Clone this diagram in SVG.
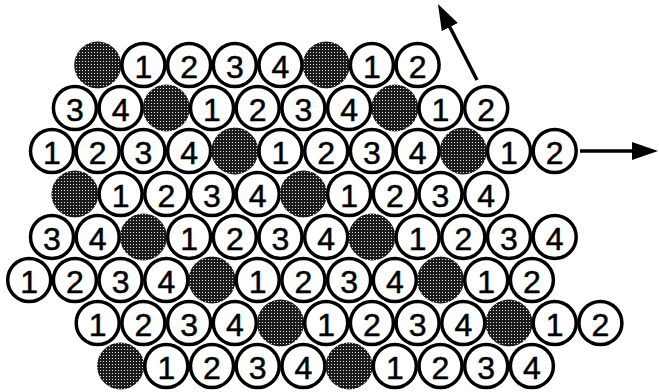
<svg xmlns="http://www.w3.org/2000/svg" width="659" height="392" viewBox="0 0 659 392">
<style>
.c{fill:#fff;stroke:#000;stroke-width:3.5}
.s{fill:url(#dots)}
.t{font-family:"Liberation Sans",Arial,sans-serif;font-size:32px;text-anchor:middle;fill:#000;stroke:#000;stroke-width:0.5}
.a{stroke:#000;stroke-width:3.5;fill:none;marker-end:url(#ah)}
</style>
<defs>
<pattern id="dots" width="3" height="3" patternUnits="userSpaceOnUse">
<rect width="3" height="3" fill="#1a1a1a"/>
<circle cx="1.5" cy="1.5" r="0.6" fill="#fff"/>
</pattern>
<marker id="ah" viewBox="0 0 26 18" refX="20" refY="9" markerUnits="userSpaceOnUse" markerWidth="26" markerHeight="18" orient="auto">
<path d="M0,0 L26,9 L0,18 z" fill="#000"/>
</marker>
</defs>
<rect width="659" height="392" fill="#fff"/>
<g id="nodes">
<!-- Row 1 -->
<g id="r1c1"><circle class="s" cx="97.7" cy="65" r="23.5"/></g>
<g id="r1c2"><circle class="c" cx="143.4" cy="65" r="21.5"/><text class="t" x="143.4" y="78">1</text></g>
<g id="r1c3"><circle class="c" cx="189.1" cy="65" r="21.5"/><text class="t" x="189.1" y="78">2</text></g>
<g id="r1c4"><circle class="c" cx="234.8" cy="65" r="21.5"/><text class="t" x="234.8" y="78">3</text></g>
<g id="r1c5"><circle class="c" cx="280.5" cy="65" r="21.5"/><text class="t" x="280.5" y="78">4</text></g>
<g id="r1c6"><circle class="s" cx="326.2" cy="65" r="23.5"/></g>
<g id="r1c7"><circle class="c" cx="371.9" cy="65" r="21.5"/><text class="t" x="371.9" y="78">1</text></g>
<g id="r1c8"><circle class="c" cx="417.6" cy="65" r="21.5"/><text class="t" x="417.6" y="78">2</text></g>
<!-- Row 2 -->
<g id="r2c1"><circle class="c" cx="74.9" cy="108" r="21.5"/><text class="t" x="74.9" y="121">3</text></g>
<g id="r2c2"><circle class="c" cx="120.6" cy="108" r="21.5"/><text class="t" x="120.6" y="121">4</text></g>
<g id="r2c3"><circle class="s" cx="166.3" cy="108" r="23.5"/></g>
<g id="r2c4"><circle class="c" cx="212" cy="108" r="21.5"/><text class="t" x="212" y="121">1</text></g>
<g id="r2c5"><circle class="c" cx="257.7" cy="108" r="21.5"/><text class="t" x="257.7" y="121">2</text></g>
<g id="r2c6"><circle class="c" cx="303.4" cy="108" r="21.5"/><text class="t" x="303.4" y="121">3</text></g>
<g id="r2c7"><circle class="c" cx="349.1" cy="108" r="21.5"/><text class="t" x="349.1" y="121">4</text></g>
<g id="r2c8"><circle class="s" cx="394.8" cy="108" r="23.5"/></g>
<g id="r2c9"><circle class="c" cx="440.5" cy="108" r="21.5"/><text class="t" x="440.5" y="121">1</text></g>
<g id="r2c10"><circle class="c" cx="486.2" cy="108" r="21.5"/><text class="t" x="486.2" y="121">2</text></g>
<!-- Row 3 -->
<g id="r3c1"><circle class="c" cx="52" cy="151" r="21.5"/><text class="t" x="52" y="164">1</text></g>
<g id="r3c2"><circle class="c" cx="97.7" cy="151" r="21.5"/><text class="t" x="97.7" y="164">2</text></g>
<g id="r3c3"><circle class="c" cx="143.4" cy="151" r="21.5"/><text class="t" x="143.4" y="164">3</text></g>
<g id="r3c4"><circle class="c" cx="189.1" cy="151" r="21.5"/><text class="t" x="189.1" y="164">4</text></g>
<g id="r3c5"><circle class="s" cx="234.8" cy="151" r="23.5"/></g>
<g id="r3c6"><circle class="c" cx="280.5" cy="151" r="21.5"/><text class="t" x="280.5" y="164">1</text></g>
<g id="r3c7"><circle class="c" cx="326.2" cy="151" r="21.5"/><text class="t" x="326.2" y="164">2</text></g>
<g id="r3c8"><circle class="c" cx="371.9" cy="151" r="21.5"/><text class="t" x="371.9" y="164">3</text></g>
<g id="r3c9"><circle class="c" cx="417.6" cy="151" r="21.5"/><text class="t" x="417.6" y="164">4</text></g>
<g id="r3c10"><circle class="s" cx="463.3" cy="151" r="23.5"/></g>
<g id="r3c11"><circle class="c" cx="509" cy="151" r="21.5"/><text class="t" x="509" y="164">1</text></g>
<g id="r3c12"><circle class="c" cx="554.7" cy="151" r="21.5"/><text class="t" x="554.7" y="164">2</text></g>
<!-- Row 4 -->
<g id="r4c1"><circle class="s" cx="74.9" cy="194" r="23.5"/></g>
<g id="r4c2"><circle class="c" cx="120.6" cy="194" r="21.5"/><text class="t" x="120.6" y="207">1</text></g>
<g id="r4c3"><circle class="c" cx="166.3" cy="194" r="21.5"/><text class="t" x="166.3" y="207">2</text></g>
<g id="r4c4"><circle class="c" cx="212" cy="194" r="21.5"/><text class="t" x="212" y="207">3</text></g>
<g id="r4c5"><circle class="c" cx="257.7" cy="194" r="21.5"/><text class="t" x="257.7" y="207">4</text></g>
<g id="r4c6"><circle class="s" cx="303.4" cy="194" r="23.5"/></g>
<g id="r4c7"><circle class="c" cx="349.1" cy="194" r="21.5"/><text class="t" x="349.1" y="207">1</text></g>
<g id="r4c8"><circle class="c" cx="394.8" cy="194" r="21.5"/><text class="t" x="394.8" y="207">2</text></g>
<g id="r4c9"><circle class="c" cx="440.5" cy="194" r="21.5"/><text class="t" x="440.5" y="207">3</text></g>
<g id="r4c10"><circle class="c" cx="486.2" cy="194" r="21.5"/><text class="t" x="486.2" y="207">4</text></g>
<!-- Row 5 -->
<g id="r5c1"><circle class="c" cx="52" cy="237" r="21.5"/><text class="t" x="52" y="250">3</text></g>
<g id="r5c2"><circle class="c" cx="97.7" cy="237" r="21.5"/><text class="t" x="97.7" y="250">4</text></g>
<g id="r5c3"><circle class="s" cx="143.4" cy="237" r="23.5"/></g>
<g id="r5c4"><circle class="c" cx="189.1" cy="237" r="21.5"/><text class="t" x="189.1" y="250">1</text></g>
<g id="r5c5"><circle class="c" cx="234.8" cy="237" r="21.5"/><text class="t" x="234.8" y="250">2</text></g>
<g id="r5c6"><circle class="c" cx="280.5" cy="237" r="21.5"/><text class="t" x="280.5" y="250">3</text></g>
<g id="r5c7"><circle class="c" cx="326.2" cy="237" r="21.5"/><text class="t" x="326.2" y="250">4</text></g>
<g id="r5c8"><circle class="s" cx="371.9" cy="237" r="23.5"/></g>
<g id="r5c9"><circle class="c" cx="417.6" cy="237" r="21.5"/><text class="t" x="417.6" y="250">1</text></g>
<g id="r5c10"><circle class="c" cx="463.3" cy="237" r="21.5"/><text class="t" x="463.3" y="250">2</text></g>
<g id="r5c11"><circle class="c" cx="509" cy="237" r="21.5"/><text class="t" x="509" y="250">3</text></g>
<g id="r5c12"><circle class="c" cx="554.7" cy="237" r="21.5"/><text class="t" x="554.7" y="250">4</text></g>
<!-- Row 6 -->
<g id="r6c1"><circle class="c" cx="29.2" cy="280" r="21.5"/><text class="t" x="29.2" y="293">1</text></g>
<g id="r6c2"><circle class="c" cx="74.9" cy="280" r="21.5"/><text class="t" x="74.9" y="293">2</text></g>
<g id="r6c3"><circle class="c" cx="120.6" cy="280" r="21.5"/><text class="t" x="120.6" y="293">3</text></g>
<g id="r6c4"><circle class="c" cx="166.3" cy="280" r="21.5"/><text class="t" x="166.3" y="293">4</text></g>
<g id="r6c5"><circle class="s" cx="212" cy="280" r="23.5"/></g>
<g id="r6c6"><circle class="c" cx="257.7" cy="280" r="21.5"/><text class="t" x="257.7" y="293">1</text></g>
<g id="r6c7"><circle class="c" cx="303.4" cy="280" r="21.5"/><text class="t" x="303.4" y="293">2</text></g>
<g id="r6c8"><circle class="c" cx="349.1" cy="280" r="21.5"/><text class="t" x="349.1" y="293">3</text></g>
<g id="r6c9"><circle class="c" cx="394.8" cy="280" r="21.5"/><text class="t" x="394.8" y="293">4</text></g>
<g id="r6c10"><circle class="s" cx="440.5" cy="280" r="23.5"/></g>
<g id="r6c11"><circle class="c" cx="486.2" cy="280" r="21.5"/><text class="t" x="486.2" y="293">1</text></g>
<g id="r6c12"><circle class="c" cx="531.9" cy="280" r="21.5"/><text class="t" x="531.9" y="293">2</text></g>
<!-- Row 7 -->
<g id="r7c1"><circle class="c" cx="97.7" cy="323" r="21.5"/><text class="t" x="97.7" y="336">1</text></g>
<g id="r7c2"><circle class="c" cx="143.4" cy="323" r="21.5"/><text class="t" x="143.4" y="336">2</text></g>
<g id="r7c3"><circle class="c" cx="189.1" cy="323" r="21.5"/><text class="t" x="189.1" y="336">3</text></g>
<g id="r7c4"><circle class="c" cx="234.8" cy="323" r="21.5"/><text class="t" x="234.8" y="336">4</text></g>
<g id="r7c5"><circle class="s" cx="280.5" cy="323" r="23.5"/></g>
<g id="r7c6"><circle class="c" cx="326.2" cy="323" r="21.5"/><text class="t" x="326.2" y="336">1</text></g>
<g id="r7c7"><circle class="c" cx="371.9" cy="323" r="21.5"/><text class="t" x="371.9" y="336">2</text></g>
<g id="r7c8"><circle class="c" cx="417.6" cy="323" r="21.5"/><text class="t" x="417.6" y="336">3</text></g>
<g id="r7c9"><circle class="c" cx="463.3" cy="323" r="21.5"/><text class="t" x="463.3" y="336">4</text></g>
<g id="r7c10"><circle class="s" cx="509" cy="323" r="23.5"/></g>
<g id="r7c11"><circle class="c" cx="554.7" cy="323" r="21.5"/><text class="t" x="554.7" y="336">1</text></g>
<g id="r7c12"><circle class="c" cx="600.4" cy="323" r="21.5"/><text class="t" x="600.4" y="336">2</text></g>
<!-- Row 8 -->
<g id="r8c1"><circle class="s" cx="120.6" cy="366" r="23.5"/></g>
<g id="r8c2"><circle class="c" cx="166.3" cy="366" r="21.5"/><text class="t" x="166.3" y="379">1</text></g>
<g id="r8c3"><circle class="c" cx="212" cy="366" r="21.5"/><text class="t" x="212" y="379">2</text></g>
<g id="r8c4"><circle class="c" cx="257.7" cy="366" r="21.5"/><text class="t" x="257.7" y="379">3</text></g>
<g id="r8c5"><circle class="c" cx="303.4" cy="366" r="21.5"/><text class="t" x="303.4" y="379">4</text></g>
<g id="r8c6"><circle class="s" cx="349.1" cy="366" r="23.5"/></g>
<g id="r8c7"><circle class="c" cx="394.8" cy="366" r="21.5"/><text class="t" x="394.8" y="379">1</text></g>
<g id="r8c8"><circle class="c" cx="440.5" cy="366" r="21.5"/><text class="t" x="440.5" y="379">2</text></g>
<g id="r8c9"><circle class="c" cx="486.2" cy="366" r="21.5"/><text class="t" x="486.2" y="379">3</text></g>
<g id="r8c10"><circle class="c" cx="531.9" cy="366" r="21.5"/><text class="t" x="531.9" y="379">4</text></g>
</g>
<g id="connectors">
<line class="a" x1="477" y1="80" x2="440.7" y2="9.3"/>
<line class="a" x1="580" y1="151" x2="652" y2="151"/>
</g>
</svg>
